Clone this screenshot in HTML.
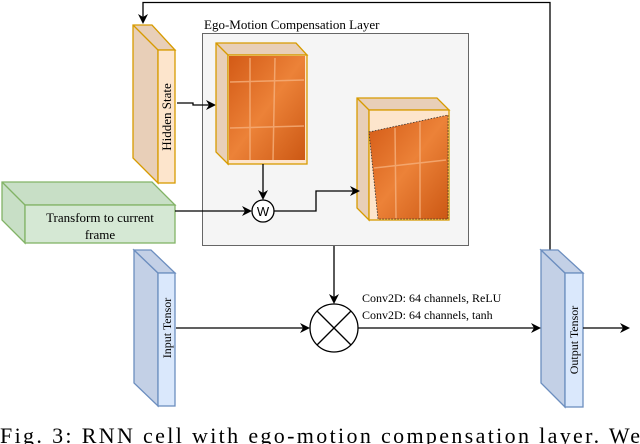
<!DOCTYPE html>
<html><head><style>html,body{margin:0;padding:0;background:#fff;}svg{display:block}</style></head><body>
<svg width="640" height="444" viewBox="0 0 640 444" xmlns="http://www.w3.org/2000/svg" font-family="Liberation Serif, serif">
<defs>
<marker id="a" markerWidth="10" markerHeight="10" refX="8" refY="5" orient="auto" markerUnits="userSpaceOnUse"><path d="M0,0 L10,5 L0,10 L3,5 Z" fill="#000"/></marker>
<linearGradient id="hm" x1="0" y1="0" x2="1" y2="1"><stop offset="0" stop-color="#d35a16"/><stop offset="0.5" stop-color="#ec8238"/><stop offset="1" stop-color="#cc5814"/></linearGradient>
</defs>
<!-- ego box -->
<rect x="202.5" y="33.5" width="266" height="212" fill="#f5f5f5" stroke="#666"/>
<text x="204" y="29" font-size="13">Ego-Motion Compensation Layer</text>
<!-- feedback -->
<polyline points="550,250 550,2.5 143,2.5 143,22" fill="none" stroke="#000" stroke-width="1.3" marker-end="url(#a)"/>
<!-- hidden state -->
<polygon points="133,25 152,25 175,50 158,50 158,183 133,158" fill="#e8cfb8" stroke="#d79b00" stroke-width="1.3"/>
<line x1="133" y1="25" x2="158" y2="50" stroke="#d79b00" stroke-width="1.3"/>
<rect x="158" y="50" width="17" height="133" fill="#fde5cc" stroke="#d79b00" stroke-width="1.3"/>
<text transform="translate(171,117) rotate(-90)" text-anchor="middle" font-size="13">Hidden State</text>
<polyline points="177,103 193,103 193,105 214,105" fill="none" stroke="#000" stroke-width="1.3" marker-end="url(#a)"/>
<!-- image 1 -->
<polygon points="216,43 296,43 307,55 228,55 228,164 216,152" fill="#e8cfb8" stroke="#d79b00" stroke-width="1.3"/>
<line x1="216" y1="43" x2="228" y2="55" stroke="#d79b00" stroke-width="1.3"/>
<rect x="228" y="55" width="79" height="109" fill="#fde5cc" stroke="#d79b00" stroke-width="1.3"/>
<rect x="229" y="56" width="76" height="104" fill="url(#hm)"/>
<g stroke="#f6b07c" stroke-width="1.5" opacity="0.8">
<line x1="250" y1="58" x2="250" y2="160"/><line x1="275" y1="58" x2="273" y2="160"/>
<line x1="230" y1="82" x2="304" y2="80"/><line x1="230" y1="128" x2="304" y2="126"/>
</g>
<line x1="263" y1="164" x2="263" y2="198" stroke="#000" stroke-width="1.3" marker-end="url(#a)"/>
<!-- image 2 -->
<polygon points="357,98 437,98 449,110 369,110 369,220 357,208" fill="#e8cfb8" stroke="#d79b00" stroke-width="1.3"/>
<line x1="357" y1="98" x2="369" y2="110" stroke="#d79b00" stroke-width="1.3"/>
<rect x="369" y="110" width="80" height="110" fill="#fde5cc" stroke="#d79b00" stroke-width="1.3"/>
<polygon points="369,132 448,115 448,219 378,219" fill="url(#hm)" stroke="#333" stroke-dasharray="1.5,1.5" stroke-width="0.8"/>
<g stroke="#f6b07c" stroke-width="1.5" opacity="0.8">
<line x1="395" y1="128" x2="396" y2="218"/><line x1="420" y1="122" x2="420" y2="218"/>
<line x1="374" y1="168" x2="446" y2="160"/>
</g>
<!-- W -->
<circle cx="263" cy="211" r="11" fill="#fff" stroke="#000" stroke-width="1.3"/>
<text x="263" y="216" text-anchor="middle" font-family="Liberation Sans, sans-serif" font-size="13">W</text>
<polyline points="274,211 316,211 316,191 358,191" fill="none" stroke="#000" stroke-width="1.3" marker-end="url(#a)"/>
<!-- transform -->
<polygon points="2,182 152,182 175,205 25,205 25,243 2,220" fill="#c8dfc6" stroke="#82b366" stroke-width="1.3"/>
<line x1="2" y1="182" x2="25" y2="205" stroke="#82b366" stroke-width="1.3"/>
<rect x="25" y="205" width="150" height="38" fill="#d5e8d4" stroke="#82b366" stroke-width="1.3"/>
<text x="100" y="222" text-anchor="middle" font-size="13">Transform to current</text>
<text x="100" y="239" text-anchor="middle" font-size="13">frame</text>
<line x1="175" y1="211" x2="250" y2="211" stroke="#000" stroke-width="1.3" marker-end="url(#a)"/>
<!-- multiply -->
<line x1="334" y1="246" x2="334" y2="302" stroke="#000" stroke-width="1.3" marker-end="url(#a)"/>
<circle cx="334" cy="328" r="24" fill="#fff" stroke="#000" stroke-width="1.3"/>
<line x1="317" y1="311" x2="351" y2="345" stroke="#000" stroke-width="1.3"/>
<line x1="351" y1="311" x2="317" y2="345" stroke="#000" stroke-width="1.3"/>
<!-- input tensor -->
<polygon points="134,250 134,383 158,406 158,273" fill="#c3d0e6" stroke="#6c8ebf" stroke-width="1.3"/>
<polygon points="134,250 151,250 175,273 158,273" fill="#c3d0e6" stroke="#6c8ebf" stroke-width="1.3"/>
<rect x="158" y="273" width="17" height="133" fill="#dae8fc" stroke="#6c8ebf" stroke-width="1.3"/>
<text transform="translate(171,328) rotate(-90)" text-anchor="middle" font-size="12">Input Tensor</text>
<line x1="176" y1="328" x2="308" y2="328" stroke="#000" stroke-width="1.3" marker-end="url(#a)"/>
<!-- output tensor -->
<polygon points="541,250 541,383 565,407 565,273" fill="#c3d0e6" stroke="#6c8ebf" stroke-width="1.3"/>
<polygon points="541,250 558,250 583,273 565,273" fill="#c3d0e6" stroke="#6c8ebf" stroke-width="1.3"/>
<rect x="565" y="273" width="18" height="134" fill="#dae8fc" stroke="#6c8ebf" stroke-width="1.3"/>
<text transform="translate(578,340) rotate(-90)" text-anchor="middle" font-size="12">Output Tensor</text>
<line x1="358" y1="328" x2="539" y2="328" stroke="#000" stroke-width="1.3" marker-end="url(#a)"/>
<line x1="583" y1="328" x2="628" y2="328" stroke="#000" stroke-width="1.3" marker-end="url(#a)"/>
<text x="362" y="302" font-size="12">Conv2D: 64 channels, ReLU</text>
<text x="362" y="319" font-size="12">Conv2D: 64 channels, tanh</text>
<!-- caption -->
<text x="0" y="443" font-size="22" textLength="640" lengthAdjust="spacing">Fig. 3: RNN cell with ego-motion compensation layer. We</text>
</svg>
</body></html>
